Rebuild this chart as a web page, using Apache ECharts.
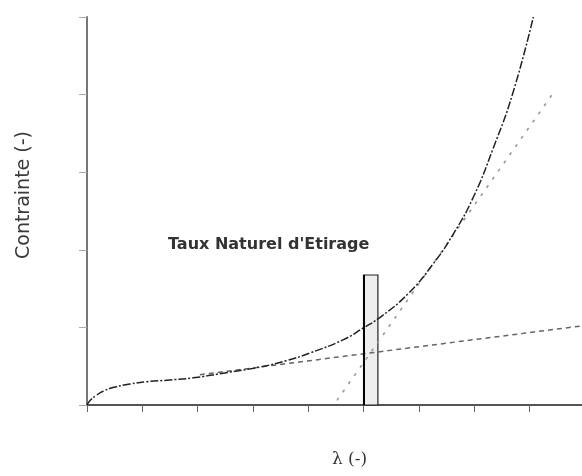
<!DOCTYPE html>
<html><head><meta charset="utf-8">
<script src="https://cdn.jsdelivr.net/npm/echarts@6/dist/echarts.min.js"></script>
<style>html,body{margin:0;padding:0;background:#fff}#c{width:582px;height:476px}</style>
</head><body><div id="c"></div>
<script>
// Main stress curve (lambda, stress)
const curveX = [0, 0.06, 0.16, 0.3, 0.5, 0.78, 1.08, 1.45, 1.92, 2.46, 3.13, 3.6, 4.03, 4.63, 4.99, 5.30, 5.80, 6.26, 6.62, 6.98, 7.34, 7.70, 8.07];
const curveY = [0, 0.06, 0.12, 0.18, 0.23, 0.27, 0.30, 0.32, 0.35, 0.41, 0.49, 0.57, 0.67, 0.84, 0.99, 1.13, 1.43, 1.82, 2.20, 2.67, 3.30, 4.02, 5.00];
// Low-slope tangent
const lowTanX = [2.04, 8.95];
const lowTanY = [0.39, 1.02];
// Steep tangent
const steepTanX = [4.52, 8.43];
const steepTanY = [0.06, 4.02];
// Natural draw ratio band
const bandX = [5.0, 5.26];
const bandTop = 1.675;
const annotation = "Taux Naturel d'Etirage";

const zip = (a, b) => a.map((v, i) => [v, b[i]]);

const chart = echarts.init(document.getElementById('c'), null, {renderer: 'canvas'});
chart.setOption({
  animation: false,
  backgroundColor: '#fff',
  title: {
    text: annotation, left: 163, top: 232,
    textStyle: {fontFamily: 'DejaVu Sans', fontWeight: 'bold', fontSize: 16, color: '#333'}
  },
  grid: {left: 87, right: 0, top: 17, bottom: 71},
  xAxis: {
    type: 'value', min: 0, max: 8.95, interval: 1,
    name: 'λ (-)', nameLocation: 'middle', nameGap: 46,
    nameTextStyle: {fontFamily: 'DejaVu Serif', fontSize: 17, color: '#333', padding: [0, 0, 0, 30]},
    axisLine: {show: true, onZero: false, lineStyle: {color: '#555', width: 2}},
    axisTick: {show: true, inside: false, length: 7, lineStyle: {color: '#666', width: 1}},
    axisLabel: {show: false},
    splitLine: {show: false}
  },
  yAxis: {
    type: 'value', min: 0, max: 5, interval: 1,
    name: 'Contrainte (-)', nameLocation: 'middle', nameGap: 53, nameRotate: 90,
    nameTextStyle: {fontFamily: 'DejaVu Sans', fontSize: 19, color: '#3a3a3a', padding: [0, 0, 0, 32]},
    axisLine: {show: true, onZero: false, lineStyle: {color: '#777', width: 2}},
    axisTick: {show: true, inside: false, length: 8, lineStyle: {color: '#aaa', width: 1}},
    axisLabel: {show: false},
    splitLine: {show: false}
  },
  series: [
    {
      type: 'line', data: zip(lowTanX, lowTanY), symbol: 'none', z: 2,
      lineStyle: {color: '#666', width: 1.5, type: [5, 4]}
    },
    {
      type: 'line', data: zip(steepTanX, steepTanY), symbol: 'none', z: 2,
      lineStyle: {color: '#999', width: 1.6, type: [3, 7]}
    },
    {
      type: 'line', data: zip(curveX, curveY), symbol: 'none', smooth: 0.5, z: 3,
      lineStyle: {color: '#222', width: 1.5, type: [8, 2, 2, 2]},
      markArea: {
        silent: true,
        itemStyle: {color: '#eeeeee', borderColor: '#222', borderWidth: 1.2},
        data: [[{coord: [bandX[0], 0]}, {coord: [bandX[1], bandTop]}]]
      },
      markLine: {
        silent: true, symbol: 'none', label: {show: false},
        lineStyle: {color: '#000', width: 2, type: 'solid'},
        data: [[{coord: [bandX[0], 0]}, {coord: [bandX[0], bandTop]}]]
      }
    }
  ]
});
</script></body></html>
